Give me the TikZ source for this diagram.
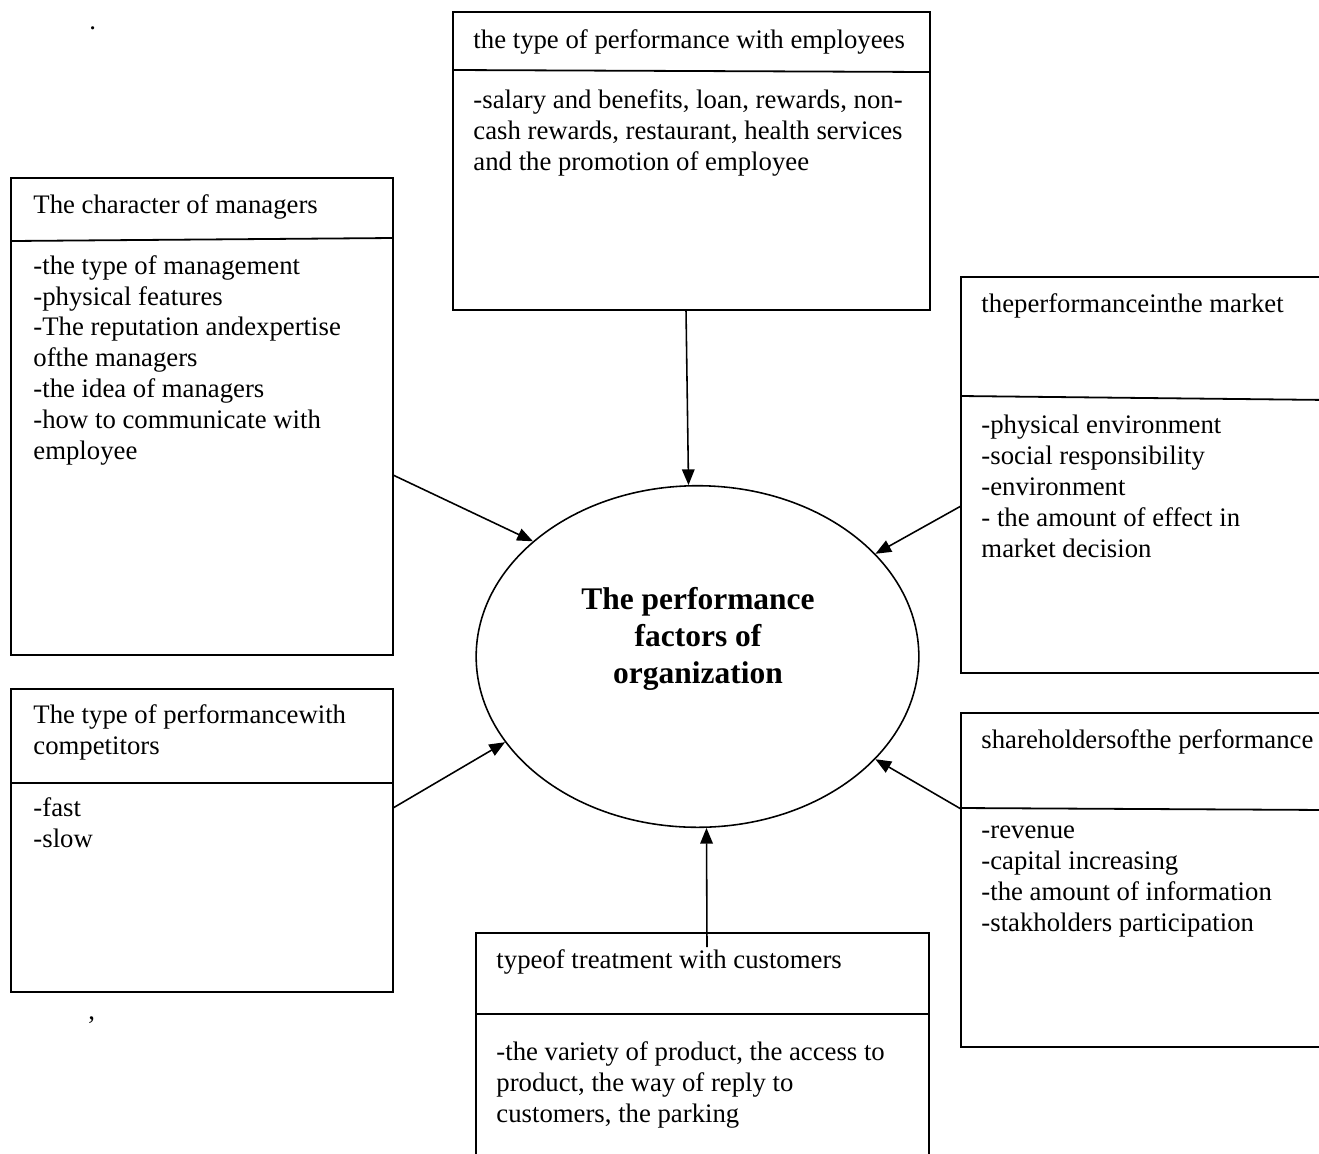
\documentclass[tikz,border=0pt]{standalone}
\usepackage{fontspec}
\setmainfont{Liberation Serif}
\usetikzlibrary{shapes.geometric,arrows.meta}
\tikzset{
  boxtext/.style={anchor=base west, inner sep=0pt, align=left, font=\fontsize{11.9}{13.7}\selectfont},
  boxline/.style={line width=0.8pt},
  link/.style={line width=0.7pt, -{Triangle[length=7pt,width=5.6pt]}}
}
\begin{document}
\begin{tikzpicture}[x=0.445pt, y=-0.445pt]
      \useasboundingbox (0,0) rectangle (1319,1153);
      % multi-line texts sit on the baseline of their last line

      % employees
      \draw[boxline] (453,12) rectangle (930,310);
      \draw[boxline] (453,70) -- (930,72);
      \node[boxtext] (empltitle) at (473,48) {the type of performance with employees};
      \node[boxtext] (emplbody) at (473,170) {-salary and benefits, loan, rewards, non-\\cash rewards, restaurant, health services\\and the promotion of employee};

      % managers
      \draw[boxline] (11,178) rectangle (393,655);
      \draw[boxline] (11,241) -- (393,238);
      \node[boxtext] (mgrtitle) at (33,213) {The character of managers};
      \node[boxtext] (mgrbody) at (33,459) {-the type of management\\-physical features\\-The reputation andexpertise\\ofthe managers\\-the idea of managers\\-how to communicate with\\employee};

      % competitors
      \draw[boxline] (11,689) rectangle (393,992);
      \draw[boxline] (11,783) -- (393,783);
      \node[boxtext] (comptitle) at (33,754) {The type of performancewith\\competitors};
      \node[boxtext] (compbody) at (33,847) {-fast\\-slow};

      % market
      \draw[boxline] (961,277) rectangle (1330,673);
      \draw[boxline] (961,396) -- (1330,400);
      \node[boxtext] (mkttitle) at (981,312) {theperformanceinthe market};
      \node[boxtext] (mktbody) at (981,557) {-physical environment\\-social responsibility\\-environment\\- the amount of effect in\\market decision};

      % shareholders
      \draw[boxline] (961,713) rectangle (1330,1047);
      \draw[boxline] (961,808) -- (1330,810);
      \node[boxtext] (shrtitle) at (981,748) {shareholdersofthe performance};
      \node[boxtext] (shrbody) at (981,931) {-revenue\\-capital increasing\\-the amount of information\\-stakholders participation};

      % customers
      \draw[boxline] (476,933) rectangle (929,1170);
      \draw[boxline] (476,1014) -- (929,1014);
      \node[boxtext] (custtitle) at (496,968) {typeof treatment with customers};
      \node[boxtext] (custbody) at (496,1122) {-the variety of product, the access to\\product, the way of reply to\\customers, the parking};

      % centre
      \node[ellipse, draw, line width=0.7pt, inner sep=0pt, minimum width=197pt, minimum height=152pt] (factors) at (697.5,656.5) {};
      \node[anchor=base, inner sep=0pt, align=center, font=\fontsize{14}{16.3}\selectfont\bfseries] (factorstitle) at (698,683) {The performance\\factors of\\organization};

      \node[boxtext] (dotmark) at (89,29) {.};
      \node[boxtext] (commamark) at (88,1019) {,};

      \coordinate (emplout) at (686,310);
      \coordinate (mgrout) at (393,475);
      \coordinate (compout) at (393,808);
      \coordinate (mktout) at (961,506);
      \coordinate (shrout) at (961,809);
      \coordinate (custout) at (707,947);

      \draw[link] (emplout) -- (factors.93.9);
      \draw[link] (mgrout) -- (factors.145.4);
      \draw[link] (compout) -- (factors.204.6);
      \draw[link] (mktout) -- (factors.30.2);
      \draw[link] (shrout) -- (factors.330.9);
      \draw[link] (custout) -- (factors.273.2);
\end{tikzpicture}
\end{document}
